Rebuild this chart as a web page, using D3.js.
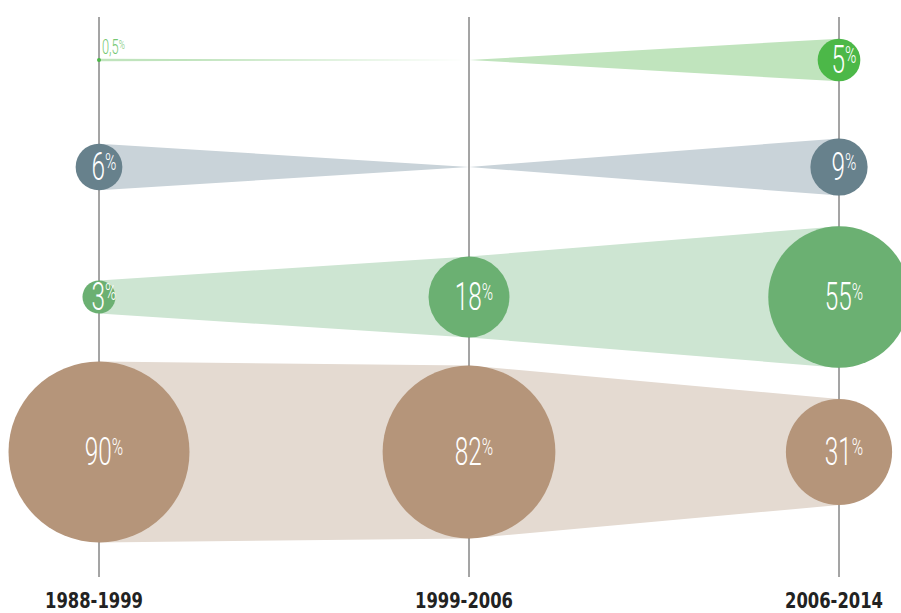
<!DOCTYPE html>
<html>
<head>
<meta charset="utf-8">
<script src="https://cdn.jsdelivr.net/npm/d3@7"></script>
<style>
  body { margin: 0; background: #fff; }
  svg { display: block; }
</style>
</head>
<body>
<svg></svg>
<script>
// data
const periods = ["1988-1999", "1999-2006", "2006-2014"];
const seriesNames = ["green", "slate", "midgreen", "brown"];
const greenValues = [0.5, 0, 5];
const slateValues = [6, 0, 9];
const midgreenValues = [3, 18, 55];
const brownValues = [90, 82, 31];

const svgSize = { width: 901, height: 613 };

const svg = d3.select("svg")
  .attr("width", svgSize.width)
  .attr("height", svgSize.height);

const series = [
  { name: seriesNames[0], values: greenValues, dark: "#4cb848", light: "#c0e4bd" },
  { name: seriesNames[1], values: slateValues, dark: "#67818c", light: "#c9d3d9" },
  { name: seriesNames[2], values: midgreenValues, dark: "#6bb072", light: "#cde5d2" },
  { name: seriesNames[3], values: brownValues, dark: "#b5957a", light: "#e4dad1" }
];

// scales
const x = d3.scalePoint().domain(periods).range([99, 839]);
const y = d3.scaleOrdinal().domain(seriesNames).range([60, 167, 297, 452]);
const r = d3.scaleSqrt().domain([0, 90]).range([0, 90.5]);
// below 1% the share is only drawn as a hairline
const rad = v => v <= 0 ? 0 : (v < 1 ? 1.2 : r(v));

// bands between periods
const bands = svg.append("g").attr("class", "bands");
series.forEach(s => {
  for (let i = 0; i < periods.length - 1; i++) {
    const x0 = x(periods[i]), x1 = x(periods[i + 1]);
    const r0 = rad(s.values[i]);
    const r1 = rad(s.values[i + 1]);
    const cy = y(s.name);
    bands.append("path")
      .attr("d", `M${x0},${cy - r0}L${x1},${cy - r1}L${x1},${cy + r1}L${x0},${cy + r0}Z`)
      .attr("fill", s.light);
  }
});

// vertical lines
svg.append("g").selectAll("line")
  .data(periods)
  .join("line")
  .attr("x1", d => x(d)).attr("x2", d => x(d))
  .attr("y1", 17).attr("y2", 577)
  .attr("stroke", "#4a4a4a")
  .attr("stroke-width", 1);

// circles and labels
const nodes = [];
series.forEach(s => s.values.forEach((v, i) => {
  if (v > 0) nodes.push({ s, v, period: periods[i] });
}));

const g = svg.append("g").selectAll("g")
  .data(nodes)
  .join("g")
  .attr("transform", d => `translate(${x(d.period)},${y(d.s.name)})`);

g.append("circle")
  .attr("r", d => d.v < 1 ? 2 : rad(d.v))
  .attr("fill", d => d.s.dark);

const fmt = v => String(v).replace(".", ",");

// labels inside circles
const inside = g.filter(d => d.v >= 1);
inside.append("g")
  .attr("transform", "translate(5,13) scale(0.64,1)")
  .append("text")
  .attr("text-anchor", "middle")
  .attr("fill", "#fff")
  .attr("font-family", "Roboto, 'DejaVu Sans', sans-serif")
  .attr("font-weight", 300)
  .attr("font-size", 38)
  .call(t => t.append("tspan").text(d => fmt(d.v)))
  .call(t => t.append("tspan").attr("font-size", 24).attr("dy", -10).text("%"));

// small label outside
const outside = g.filter(d => d.v < 1);
outside.append("g")
  .attr("transform", "translate(3,-6) scale(0.64,1)")
  .append("text")
  .attr("fill", "#76c873")
  .attr("font-family", "Roboto, 'DejaVu Sans', sans-serif")
  .attr("font-weight", 300)
  .attr("font-size", 20)
  .call(t => t.append("tspan").text(d => fmt(d.v)))
  .call(t => t.append("tspan").attr("font-size", 13).attr("dy", -5).text("%"));

// period labels (condensed by a horizontal scale to ~98px)
const labels = svg.append("g").selectAll("g")
  .data(periods)
  .join("g");
labels.append("text")
  .attr("text-anchor", "middle")
  .attr("fill", "#222")
  .attr("font-family", "'DejaVu Sans Condensed', 'DejaVu Sans', sans-serif")
  .attr("font-weight", "bold")
  .attr("font-size", 22)
  .text(d => d);
labels.attr("transform", function(d) {
  const w = this.querySelector("text").getComputedTextLength();
  return `translate(${x(d) - 5},608) scale(${98 / w},1)`;
});
</script>
</body>
</html>
